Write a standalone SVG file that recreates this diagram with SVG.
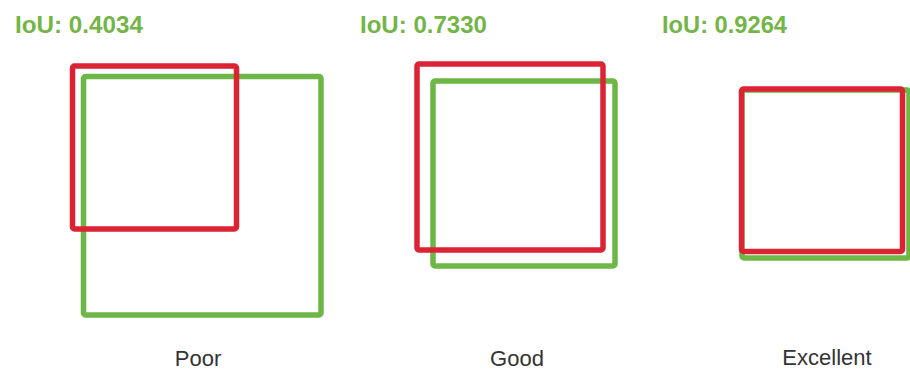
<svg xmlns="http://www.w3.org/2000/svg" width="910" height="372" viewBox="0 0 910 372">
<style>
.gt{fill:none;stroke:#6db746;stroke-width:5.5;stroke-linejoin:round}
.pr{fill:none;stroke:#dc2333;stroke-width:5.5;stroke-linejoin:round}
.iou{font-family:"Liberation Sans",Arial,sans-serif;font-weight:bold;font-size:23px;fill:#74b548}
.cap{font-family:"Liberation Sans",Arial,sans-serif;font-size:22px;fill:#333;text-anchor:middle}
</style>
<rect width="910" height="372" fill="#fff"/>
<g id="poor">
<text class="iou" x="15" y="33" textLength="128" lengthAdjust="spacingAndGlyphs">IoU: 0.4034</text>
<rect class="gt" x="83.5" y="76.5" width="237.5" height="238.5" rx="2"/>
<rect class="pr" x="72.5" y="66" width="164" height="163" rx="2"/>
<text class="cap" x="198" y="366">Poor</text>
</g>
<g id="good">
<text class="iou" x="360" y="33" textLength="127" lengthAdjust="spacingAndGlyphs">IoU: 0.7330</text>
<rect class="gt" x="433" y="81" width="182" height="185" rx="2"/>
<rect class="pr" x="417" y="64" width="186" height="186" rx="2"/>
<text class="cap" x="517" y="366">Good</text>
</g>
<g id="excellent">
<text class="iou" x="662" y="33" textLength="125" lengthAdjust="spacingAndGlyphs">IoU: 0.9264</text>
<rect class="gt" x="742" y="90" width="167" height="168" rx="2"/>
<rect class="pr" x="741.5" y="89" width="161" height="162.5" rx="2"/>
<text class="cap" x="827" y="365">Excellent</text>
</g>
<g id="connectors"/>
</svg>
